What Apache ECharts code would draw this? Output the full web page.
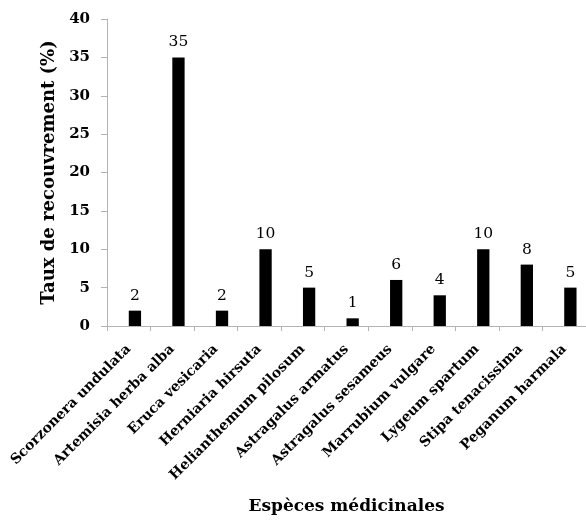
<!DOCTYPE html>
<html>
<head>
<meta charset="utf-8">
<script src="https://cdn.jsdelivr.net/npm/echarts@6/dist/echarts.min.js"></script>
<style>
html,body{margin:0;padding:0;background:#fff;}
#chart{width:586px;height:520px;}
</style>
</head>
<body>
<div id="chart"></div>
<script>
const categories = ["Scorzonera undulata","Artemisia herba alba","Eruca vesicaria","Herniaria hirsuta","Helianthemum pilosum","Astragalus armatus","Astragalus sesameus","Marrubium vulgare","Lygeum spartum","Stipa tenacissima","Peganum harmala"];
const values = [2,35,2,10,5,1,6,4,10,8,5];
const emptySeries = categories.map(() => null);
const yTicks = {min:0, max:40, interval:5};

const serif = "'DejaVu Serif', serif";
const chart = echarts.init(document.getElementById('chart'), null, {renderer:'canvas'});
chart.setOption({
  animation:false,
  grid:{left:107, top:19, width:487.5, height:307, containLabel:false},
  xAxis:{
    type:'category',
    data:categories,
    name:'Espèces médicinales',
    nameLocation:'middle',
    nameGap:172,
    nameTextStyle:{fontFamily:serif, fontWeight:'bold', fontSize:17, color:'#000'},
    axisLine:{lineStyle:{color:'#b3b3b3', width:1}},
    axisTick:{show:true, length:5, lineStyle:{color:'#b3b3b3'}},
    axisLabel:{rotate:45, interval:0, margin:21, fontFamily:serif, fontWeight:'bold', fontSize:14, color:'#000'}
  },
  yAxis:{
    type:'value',
    min:yTicks.min, max:yTicks.max, interval:yTicks.interval,
    name:'Taux de recouvrement (%)',
    nameLocation:'middle',
    nameGap:40,
    nameTextStyle:{fontFamily:serif, fontWeight:'bold', fontSize:18, color:'#000'},
    axisLine:{show:true, lineStyle:{color:'#b3b3b3', width:1}},
    axisTick:{show:true, length:6, lineStyle:{color:'#b3b3b3'}},
    axisLabel:{margin:17, fontFamily:serif, fontWeight:'bold', fontSize:15, color:'#000'},
    splitLine:{show:false}
  },
  series:[
    {type:'bar', data:emptySeries, barWidth:12.3, barGap:'0%', itemStyle:{color:'#000'}},
    {type:'bar', data:values, barWidth:12.3, barGap:'0%', itemStyle:{color:'#000'},
     label:{show:true, position:'top', distance:7, fontFamily:serif, fontSize:15.5, color:'#000'}}
  ]
});
</script>
</body>
</html>
